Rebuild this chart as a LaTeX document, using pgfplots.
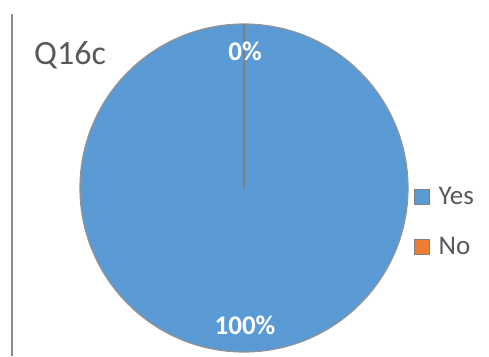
\documentclass[border=0pt]{standalone}
\usepackage{pgfplots}
\usepackage{pgfplotstable}
\pgfplotsset{compat=1.18}
\usepackage{fontspec}
\setmainfont{Carlito}
\definecolor{pieblue}{HTML}{5B9BD5}
\definecolor{pieorange}{HTML}{ED7D31}
\definecolor{txtgray}{HTML}{595959}
\pgfplotstableread{
label value
Yes 100
No 0
}\piedata
\begin{document}
\begin{tikzpicture}
\pgfplotstablegetelem{0}{value}\of\piedata \let\va\pgfplotsretval
\pgfplotstablegetelem{1}{value}\of\piedata \let\vb\pgfplotsretval
\pgfmathsetmacro{\tot}{\va+\vb}
\pgfmathsetmacro{\fA}{\va/\tot}
\pgfmathsetmacro{\fB}{\vb/\tot}
\pgfmathsetmacro{\aS}{90}
\pgfmathsetmacro{\aA}{90-360*\fA}
\pgfmathsetmacro{\aB}{\aA-360*\fB}
\pgfmathsetmacro{\mA}{(\aS+\aA)/2}
\pgfmathsetmacro{\mB}{(\aA+\aB)/2}
\pgfmathtruncatemacro{\pA}{round(100*\fA)}
\pgfmathtruncatemacro{\pB}{round(100*\fB)}
\begin{axis}[
 scale only axis, width=489pt, height=356pt,
 xmin=0, xmax=489, ymin=0, ymax=356,
 hide axis, clip=false,
 legend style={at={(axis cs:414,171)}, anchor=north west, draw=none, fill=none,
   font=\fontsize{27}{28}\selectfont, text=txtgray, row sep=27pt, inner sep=0pt,
   /tikz/every odd column/.append style={column sep=7pt}},
 legend cell align=left,
 legend image code/.code={\draw[#1, draw=gray] (0pt,-7.5pt) rectangle (15pt,7.5pt);},
]
\addlegendimage{fill=pieblue}
\addlegendentry{Yes}
\addlegendimage{fill=pieorange}
\addlegendentry{No}
\fill[pieblue] (axis cs:244,168) -- ++(\aS:164pt) arc[start angle=\aS, end angle=\aA, radius=164pt] -- cycle;
\fill[pieorange] (axis cs:244,168) -- ++(\aA:164pt) arc[start angle=\aA, end angle=\aB, radius=164pt] -- cycle;
\draw[gray!85, line width=1.2pt] (axis cs:244,168) circle[radius=164pt];
\draw[gray, line width=1.3pt] (axis cs:244,168) -- ++(\aS:164pt);
\draw[gray, line width=1.3pt] (axis cs:244,168) -- ++(\aB:164pt);
\node[text=white, font=\bfseries\fontsize{27}{28}\selectfont] at (axis cs:245,168) [shift={(\mA:137pt)}] {\pA\%};
\node[text=white, font=\bfseries\fontsize{27}{28}\selectfont] at (axis cs:245,168) [shift={(\mB:137pt)}] {\pB\%};
\draw[gray!90, line width=1.6pt] (axis cs:12,0) -- (axis cs:12,342);
\node[anchor=base west, inner sep=0pt, text=txtgray, font=\fontsize{34}{36}\selectfont] at (axis cs:34,291) {Q16c};
\end{axis}
\path (current axis.south west) rectangle (current axis.north east);
\end{tikzpicture}
\end{document}
